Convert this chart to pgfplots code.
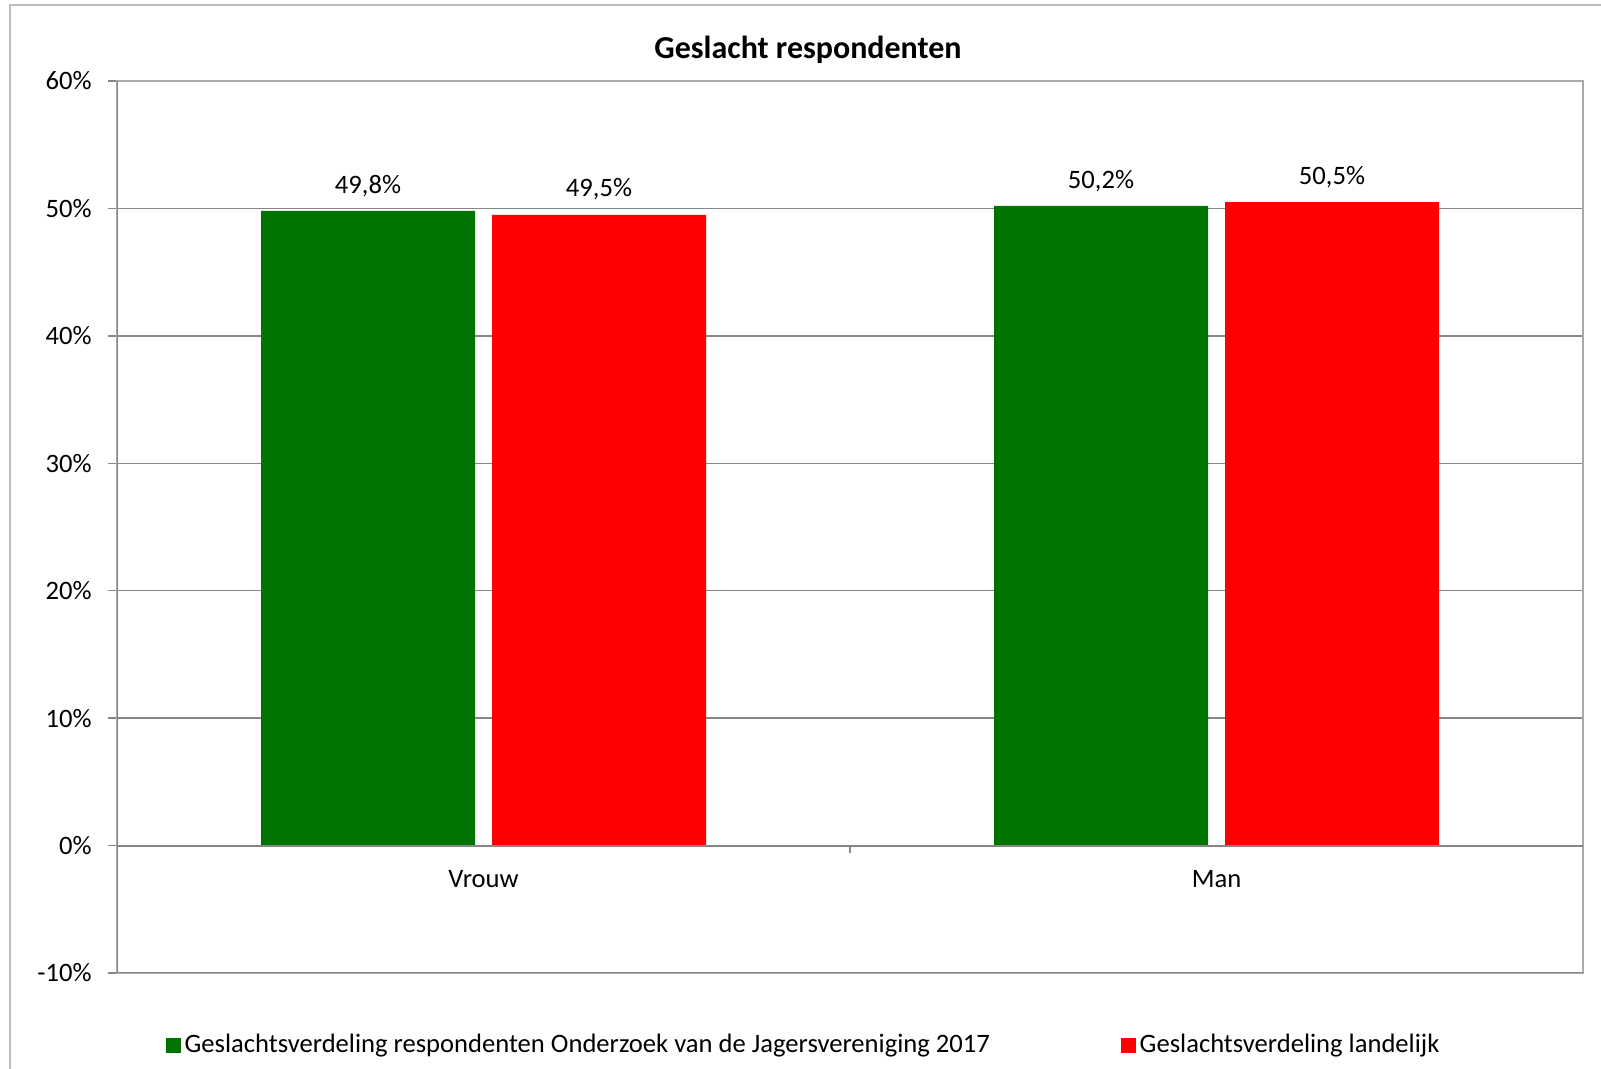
\documentclass[border=0pt]{standalone}
\usepackage{fontspec}
\setmainfont{Carlito}
\usepackage{pgfplots}
\pgfplotsset{compat=1.18}
\definecolor{bargreen}{RGB}{0,115,0}
\definecolor{barred}{RGB}{255,0,0}
\definecolor{gridgray}{RGB}{134,134,134}
\definecolor{bordergray}{RGB}{170,170,170}
\definecolor{framegray}{RGB}{190,190,190}
\begin{document}
\fontsize{13.3bp}{16bp}\selectfont
\begin{tikzpicture}
\useasboundingbox (0,0) rectangle (800.5bp,534.5bp);
\draw[framegray, line width=0.8bp] (5bp,-2bp) -- (5bp,532bp) -- (803bp,532bp);
\node[font=\fontsize{16bp}{19bp}\selectfont\bfseries] at (404bp,509.5bp) {Geslacht respondenten};
\begin{axis}[
  at={(58.5bp,48bp)}, anchor=south west,
  scale only axis, width=733bp, height=446bp,
  xmin=-0.5, xmax=1.5, ymin=-10, ymax=60,
  ytick={-10,0,10,20,30,40,50,60},
  yticklabels={-10\%,0\%,10\%,20\%,30\%,40\%,50\%,60\%},
  xtick=\empty,
  ytick pos=left,
  ymajorgrids, grid style={gridgray, line width=0.75bp},
  axis line style={bordergray, line width=0.75bp},
  tick align=outside, major tick length=4.5bp,
  ytick style={gridgray, line width=0.75bp},
  yticklabel style={inner sep=0pt, anchor=east, xshift=-8bp},
  ybar=8.5bp, bar width=107bp,
  nodes near coords={\pgfmathprintnumber[fixed,fixed zerofill,precision=1,use comma,assume math mode=true]{\pgfplotspointmeta}\%},
  every node near coord/.append style={anchor=south, inner sep=0pt, yshift=7bp, text=black},
  legend columns=2,
  legend style={draw=none, fill=none, at={(0.469,-0.081)}, anchor=center,
    /tikz/every even column/.append style={column sep=63.5bp}},
]
\addplot[fill=bargreen, draw=none,
  legend image code/.code={\fill[bargreen] (0bp,-3.75bp) rectangle (7.5bp,3.75bp);}]
  coordinates {(0,49.8) (1,50.2)};
\addlegendentry{Geslachtsverdeling respondenten Onderzoek van de Jagersvereniging 2017}
\addplot[fill=barred, draw=none,
  legend image code/.code={\fill[barred] (0bp,-3.75bp) rectangle (7.5bp,3.75bp);}]
  coordinates {(0,49.5) (1,50.5)};
\addlegendentry{Geslachtsverdeling landelijk}
\draw[gridgray, line width=1bp] (axis cs:-0.5,0) -- (axis cs:1.5,0);
\draw[gridgray, line width=0.75bp] (axis cs:0.5,0) -- ([yshift=-3.5bp]axis cs:0.5,0);
\draw[gridgray, line width=0.75bp] (rel axis cs:0,1) -- (rel axis cs:0,0) -- (rel axis cs:1,0);
\node at (axis cs:0,0) [yshift=-16.5bp] {Vrouw};
\node at (axis cs:1,0) [yshift=-16.5bp] {Man};
\end{axis}
\end{tikzpicture}
\end{document}
